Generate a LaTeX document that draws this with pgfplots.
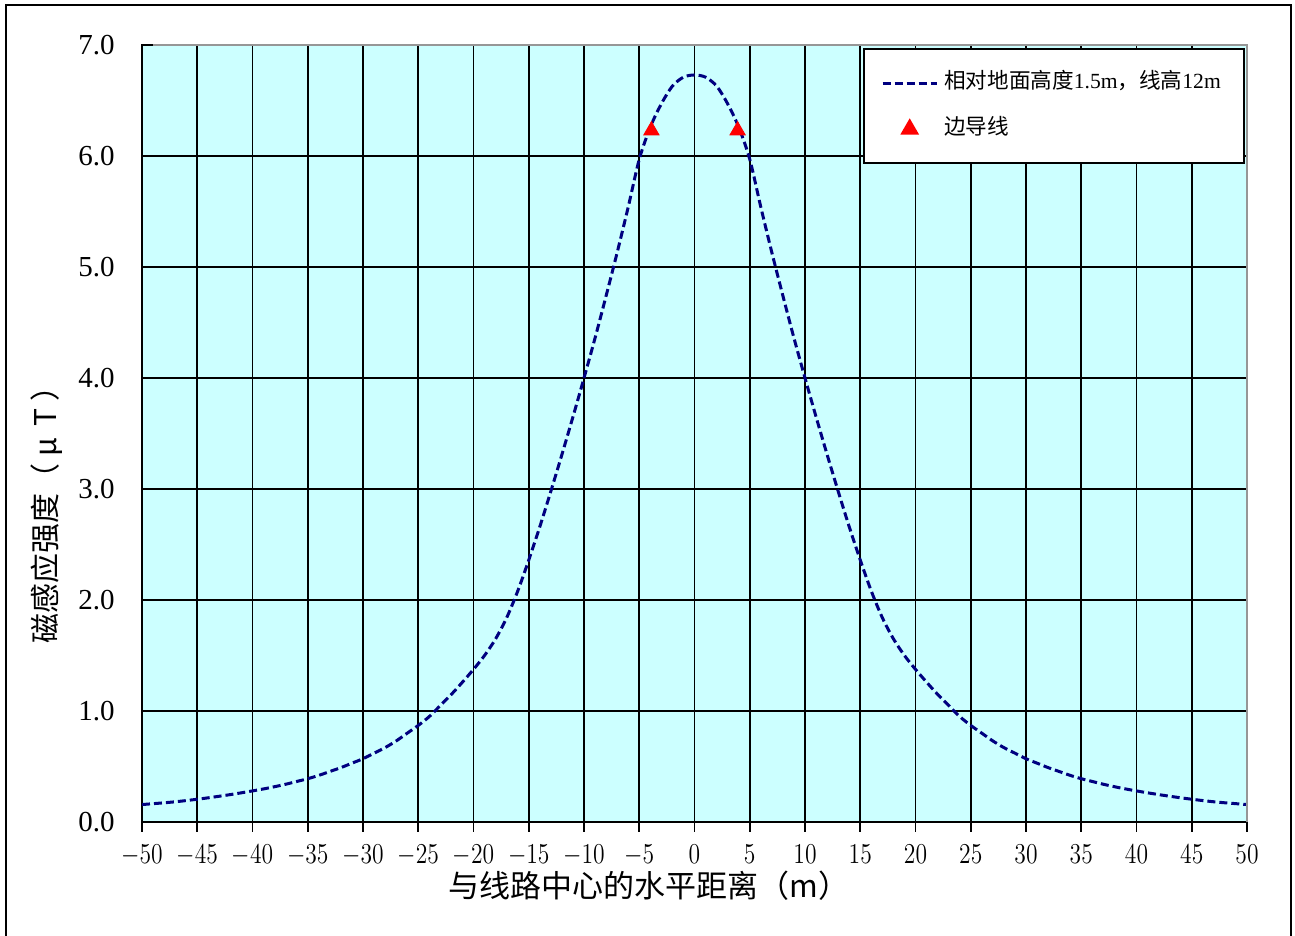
\documentclass[border=0pt]{standalone}
\usepackage{fontspec}
\setmainfont{Liberation Serif}
\newfontfamily\cjk{Noto Sans CJK SC}
\usepackage{graphicx}
\usepackage{pgfplots}
\usepackage{pgfplotstable}
\pgfplotsset{compat=1.18}
\definecolor{bgcyan}{RGB}{204,255,255}
\definecolor{navy}{RGB}{0,0,128}
\definecolor{framegray}{RGB}{150,150,150}
\pgfplotsset{
  mylineimg/.style={legend image code/.code={\draw[##1] (0pt,0pt) -- (27pt,0pt);}},
  mymarkimg/.style={legend image code/.code={\draw[##1] plot coordinates {(13.5pt,0pt)};}},
}

\pgfplotstableread{
x B
-50 0.157
-49 0.165
-48 0.173
-47 0.182
-46 0.193
-45 0.205
-44 0.218
-43 0.232
-42 0.247
-41 0.263
-40 0.280
-39 0.298
-38 0.318
-37 0.340
-36 0.365
-35 0.390
-34 0.420
-33 0.455
-32 0.490
-31 0.530
-30 0.570
-29 0.620
-28 0.670
-27 0.730
-26 0.800
-25 0.870
-24 0.950
-23 1.050
-22 1.150
-21 1.260
-20 1.375
-19 1.500
-18 1.650
-17 1.840
-16 2.080
-15 2.360
-14 2.660
-13 2.980
-12 3.310
-11 3.650
-10 4.000
-9 4.360
-8 4.740
-7 5.130
-6 5.540
-5 5.970
-4 6.260
-3 6.470
-2 6.630
-1 6.710
0 6.730
1 6.710
2 6.630
3 6.470
4 6.260
5 5.970
6 5.540
7 5.130
8 4.740
9 4.360
10 4.000
11 3.650
12 3.310
13 2.980
14 2.660
15 2.360
16 2.080
17 1.840
18 1.650
19 1.500
20 1.375
21 1.260
22 1.150
23 1.050
24 0.950
25 0.870
26 0.800
27 0.730
28 0.670
29 0.620
30 0.570
31 0.530
32 0.490
33 0.455
34 0.420
35 0.390
36 0.365
37 0.340
38 0.318
39 0.298
40 0.280
41 0.263
42 0.247
43 0.232
44 0.218
45 0.205
46 0.193
47 0.182
48 0.173
49 0.165
50 0.157
}\fielddata

\pgfplotstableread{
x B
-3.9 6.23
3.9 6.23
}\edgedata

\begin{document}
\begin{tikzpicture}
\useasboundingbox (0,0) rectangle (647.5pt,468pt);
\draw[line width=1.2pt] (3pt,-2pt) -- (3pt,465.5pt) -- (645.5pt,465.5pt) -- (645.5pt,-2pt);
\begin{axis}[
  at={(71pt,57pt)}, anchor=south west,
  scale only axis, width=552.5pt, height=388.5pt,
  xmin=-50, xmax=50, ymin=0, ymax=7,
  xtick={-50,-45,...,50}, ytick={0,1,...,7},
  grid=major, major grid style={black, line width=0.9pt},
  axis line style={black, line width=0.9pt},
  axis background/.style={fill=bgcyan},
  tick align=outside, xtick pos=bottom, ytick pos=left,
  major tick length=5pt,
  xtick style={black, line width=0.9pt},
  ytick style={draw=none},
  xticklabel={\scalebox{0.82}[1]{$\pgfmathprintnumber{\tick}$}},
  xticklabel style={font=\fontsize{15.5}{17}\selectfont, inner sep=0pt, anchor=north, yshift=-6.5pt},
  yticklabel style={font=\fontsize{14.5}{16}\selectfont, inner sep=0pt, anchor=east, xshift=-8.5pt,
    /pgf/number format/.cd, fixed, fixed zerofill, precision=1, assume math mode=true},
  xlabel={\cjk 与线路中心的水平距离（m）},
  xlabel style={at={(rel axis cs:0.459,-0.0824)}, anchor=center, font=\fontsize{15.5}{18}\selectfont},
  ylabel={\cjk 磁感应强度（ μ\, T ）},
  ylabel style={at={(rel axis cs:-0.086,0.405)}, anchor=center, font=\fontsize{15}{18}\selectfont},
  legend style={at={(0.998,0.996)}, anchor=north east, draw=black, line width=1pt, fill=white,
    font=\fontsize{10.8}{12}\selectfont, row sep=9pt, inner xsep=8.5pt, inner ysep=10pt,
    nodes={inner ysep=2pt, inner xsep=3pt, text height=7.5pt, text depth=2.5pt}},
  legend cell align=left,
  after end axis/.code={
    \draw[framegray, line width=1pt] (axis cs:-49,7) -- (axis cs:50,7) -- (axis cs:50,0);
  },
]
\addplot[navy, line width=1.5pt, dash pattern=on 4pt off 2pt, smooth, mylineimg]
  table[x=x,y=B] {\fielddata};
\addlegendentry{{\cjk 相对地面高度}1.5m{\cjk ，线高}12m}
\addplot[red, only marks, mark=triangle*, mark size=4.4pt, mark options={fill=red, draw=red, solid}, mymarkimg]
  table[x=x,y=B] {\edgedata};
\addlegendentry{\cjk 边导线}
\end{axis}
\end{tikzpicture}
\end{document}
